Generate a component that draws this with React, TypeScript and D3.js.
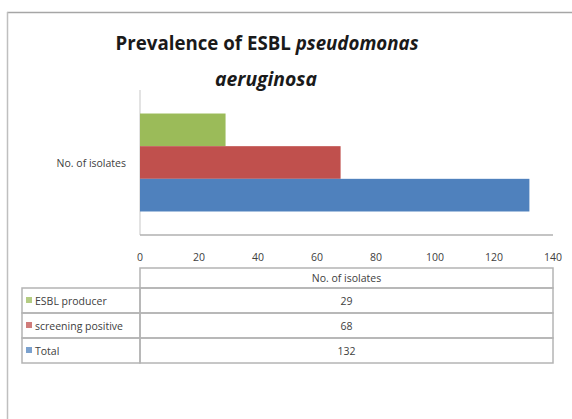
import React, { useEffect, useRef } from 'react';
import * as d3 from 'd3';

const categories = ['No. of isolates'];
const seriesNames = ['ESBL producer', 'screening positive', 'Total'];
const seriesValues = [29, 68, 132];
const seriesColors = ['#9bbb59', '#c0504d', '#4f81bd'];
const xTicks = [0, 20, 40, 60, 80, 100, 120, 140];

const W = 572;
const H = 419;

const App: React.FC = () => {
  const svgRef = useRef<SVGSVGElement | null>(null);

  useEffect(() => {
    if (!svgRef.current) return;
    const svg = d3.select(svgRef.current);
    svg.selectAll('*').remove();

    const font = "'Open Sans', 'Liberation Sans', sans-serif";
    const textColor = '#404040';

    svg.append('rect').attr('width', W).attr('height', H).attr('fill', '#fff');

    // chart frame (only top & left edges are visible in the crop)
    svg.append('line')
      .attr('x1', 7).attr('x2', W).attr('y1', 12.5).attr('y2', 12.5)
      .attr('stroke', '#a6a6a6').attr('stroke-width', 1.5);
    svg.append('line')
      .attr('x1', 7.5).attr('x2', 7.5).attr('y1', 12).attr('y2', H)
      .attr('stroke', '#bfbfbf').attr('stroke-width', 1.5);

    // title
    const t1 = svg.append('text')
      .attr('x', 267).attr('y', 50)
      .attr('text-anchor', 'middle')
      .attr('font-family', font)
      .attr('font-size', 19)
      .attr('font-weight', 'bold')
      .attr('fill', '#1a1a1a')
      .attr('textLength', 303)
      .attr('lengthAdjust', 'spacingAndGlyphs');
    t1.append('tspan').text('Prevalence of ESBL ');
    t1.append('tspan').attr('font-style', 'italic').text('pseudomonas');
    svg.append('text')
      .attr('x', 266).attr('y', 86)
      .attr('text-anchor', 'middle')
      .attr('font-family', font)
      .attr('font-size', 19)
      .attr('font-weight', 'bold')
      .attr('font-style', 'italic')
      .attr('fill', '#1a1a1a')
      .attr('textLength', 102)
      .attr('lengthAdjust', 'spacingAndGlyphs')
      .text('aeruginosa');

    const plotLeft = 140;
    const plotRight = 553;
    const plotTop = 90;
    const plotBottom = 235;

    const xScale = d3.scaleLinear().domain([0, 140]).range([plotLeft, plotRight]);
    const yScale = d3.scaleBand<string>()
      .domain(categories)
      .range([plotTop, plotBottom])
      .paddingInner(0)
      .paddingOuter(0.24);
    const sScale = d3.scaleBand<string>()
      .domain(seriesNames)
      .range([0, yScale.bandwidth()])
      .padding(0);

    // axes lines
    svg.append('line')
      .attr('x1', plotLeft).attr('x2', plotLeft)
      .attr('y1', plotTop).attr('y2', plotBottom)
      .attr('stroke', '#d0d0d0').attr('stroke-width', 1.2);
    svg.append('line')
      .attr('x1', plotLeft).attr('x2', plotRight)
      .attr('y1', plotBottom).attr('y2', plotBottom)
      .attr('stroke', '#b0b0b0').attr('stroke-width', 1.5);

    // bars
    const cat = categories[0];
    const y0 = yScale(cat) || 0;
    svg.selectAll('rect.bar')
      .data(seriesNames)
      .enter()
      .append('rect')
      .attr('class', 'bar')
      .attr('x', xScale(0))
      .attr('y', d => y0 + (sScale(d) || 0))
      .attr('width', (d, i) => xScale(seriesValues[i]) - xScale(0))
      .attr('height', sScale.bandwidth())
      .attr('fill', (d, i) => seriesColors[i]);

    // category label
    svg.append('text')
      .attr('x', plotLeft - 14)
      .attr('y', y0 + yScale.bandwidth() / 2 + 4)
      .attr('text-anchor', 'end')
      .attr('font-family', font)
      .attr('font-size', 10.5)
      .attr('fill', textColor)
      .text(cat);

    // tick labels
    svg.selectAll('text.tick')
      .data(xTicks)
      .enter()
      .append('text')
      .attr('class', 'tick')
      .attr('x', d => xScale(d))
      .attr('y', 261)
      .attr('text-anchor', 'middle')
      .attr('font-family', font)
      .attr('font-size', 10.5)
      .attr('fill', textColor)
      .text(d => d);

    // data table
    const tableTop = 268;
    const headerH = 20;
    const rowH = 25;
    const legendLeft = 22;
    const tableStroke = '#b4b4b4';
    const midX = (plotLeft + plotRight) / 2;

    const rowTop = (i: number) => tableTop + headerH + i * rowH;
    const tableBottom = rowTop(seriesNames.length);

    // header cell
    svg.append('rect')
      .attr('x', plotLeft).attr('y', tableTop)
      .attr('width', plotRight - plotLeft).attr('height', headerH)
      .attr('fill', 'none').attr('stroke', tableStroke).attr('stroke-width', 1.5);
    svg.append('text')
      .attr('x', midX).attr('y', tableTop + headerH / 2 + 4)
      .attr('text-anchor', 'middle')
      .attr('font-family', font)
      .attr('font-size', 10.5)
      .attr('fill', textColor)
      .text(cat);

    // rows
    const rows = svg.selectAll('g.row')
      .data(seriesNames)
      .enter()
      .append('g')
      .attr('class', 'row');
    rows.append('rect')
      .attr('x', legendLeft)
      .attr('y', (d, i) => rowTop(i))
      .attr('width', plotLeft - legendLeft)
      .attr('height', rowH)
      .attr('fill', 'none')
      .attr('stroke', tableStroke)
      .attr('stroke-width', 1.5);
    rows.append('rect')
      .attr('x', plotLeft)
      .attr('y', (d, i) => rowTop(i))
      .attr('width', plotRight - plotLeft)
      .attr('height', rowH)
      .attr('fill', 'none')
      .attr('stroke', tableStroke)
      .attr('stroke-width', 1.5);
    rows.append('rect')
      .attr('x', legendLeft + 4)
      .attr('y', (d, i) => rowTop(i) + rowH / 2 - 3.5)
      .attr('width', 6)
      .attr('height', 6)
      .attr('fill', (d, i) => seriesColors[i])
      .attr('opacity', 0.75);
    rows.append('text')
      .attr('x', legendLeft + 13)
      .attr('y', (d, i) => rowTop(i) + rowH / 2 + 4)
      .attr('font-family', font)
      .attr('font-size', 10.5)
      .attr('fill', textColor)
      .text(d => d);
    rows.append('text')
      .attr('x', midX)
      .attr('y', (d, i) => rowTop(i) + rowH / 2 + 4)
      .attr('text-anchor', 'middle')
      .attr('font-family', font)
      .attr('font-size', 10.5)
      .attr('fill', textColor)
      .text((d, i) => seriesValues[i]);

    void tableBottom;
  }, []);

  return (
    <svg
      ref={svgRef}
      width={W}
      height={H}
      style={{ position: 'absolute', left: 0, top: 0, display: 'block' }}
    />
  );
};

export default App;
